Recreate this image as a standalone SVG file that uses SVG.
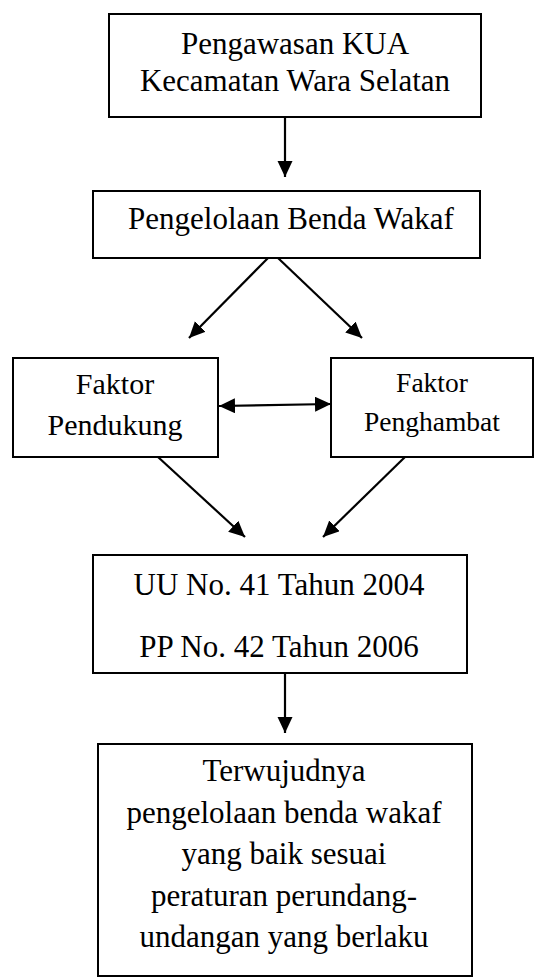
<svg xmlns="http://www.w3.org/2000/svg" width="536" height="979" viewBox="0 0 536 979">
<style>
  .box { fill: #ffffff; stroke: #000000; stroke-width: 2; }
  text { font-family: 'Liberation Serif', 'Times New Roman', Times, serif; font-size: 31px; fill: #000000; text-anchor: middle; }
  .ts { font-size: 30px; }
  .tx { font-size: 27.5px; }
  .edge { stroke: #000000; stroke-width: 2.2; fill: none; marker-end: url(#ah); }
</style>
<defs>
  <marker id="ah" markerUnits="userSpaceOnUse" markerWidth="18" markerHeight="16" refX="16" refY="7.5" orient="auto-start-reverse">
    <path d="M0,0 L16,7.5 L0,15 Z" fill="#000000"/>
  </marker>
</defs>
<rect width="536" height="979" fill="#ffffff"/>
<g id="connectors">
  <line class="edge" x1="285" y1="117" x2="285" y2="177"/>
  <line class="edge" x1="268" y1="258" x2="189" y2="338"/>
  <line class="edge" x1="278" y1="258" x2="362" y2="338"/>
  <line class="edge" x1="219" y1="406" x2="331" y2="404" style="marker-start:url(#ah)"/>
  <line class="edge" x1="158" y1="457" x2="245" y2="537"/>
  <line class="edge" x1="405" y1="457" x2="323" y2="537"/>
  <line class="edge" x1="285" y1="673" x2="285" y2="733"/>
</g>
<g id="n1" font-family="Liberation Serif, serif">
  <rect class="box" x="109" y="14" width="372" height="103"/>
  <text x="295" y="54">Pengawasan KUA</text>
  <text x="295" y="91">Kecamatan Wara Selatan</text>
</g>
<g id="n2">
  <rect class="box" x="93" y="191" width="387" height="67"/>
  <text x="291" y="229">Pengelolaan Benda Wakaf</text>
</g>
<g id="n3">
  <rect class="box" x="13" y="358" width="205" height="99"/>
  <text class="ts" x="115" y="394">Faktor</text>
  <text class="ts" x="115" y="435">Pendukung</text>
</g>
<g id="n4">
  <rect class="box" x="331" y="358" width="202" height="99"/>
  <text class="tx" x="432" y="392">Faktor</text>
  <text class="tx" x="432" y="431">Penghambat</text>
</g>
<g id="n5">
  <rect class="box" x="93" y="555" width="374" height="118"/>
  <text x="279" y="595">UU No. 41 Tahun 2004</text>
  <text x="279" y="657">PP No. 42 Tahun 2006</text>
</g>
<g id="n6">
  <rect class="box" x="98" y="744" width="374" height="232"/>
  <text x="284" y="781">Terwujudnya</text>
  <text x="284" y="823">pengelolaan benda wakaf</text>
  <text x="284" y="864">yang baik sesuai</text>
  <text x="284" y="906">peraturan perundang-</text>
  <text x="284" y="947">undangan yang berlaku</text>
</g>
</svg>
